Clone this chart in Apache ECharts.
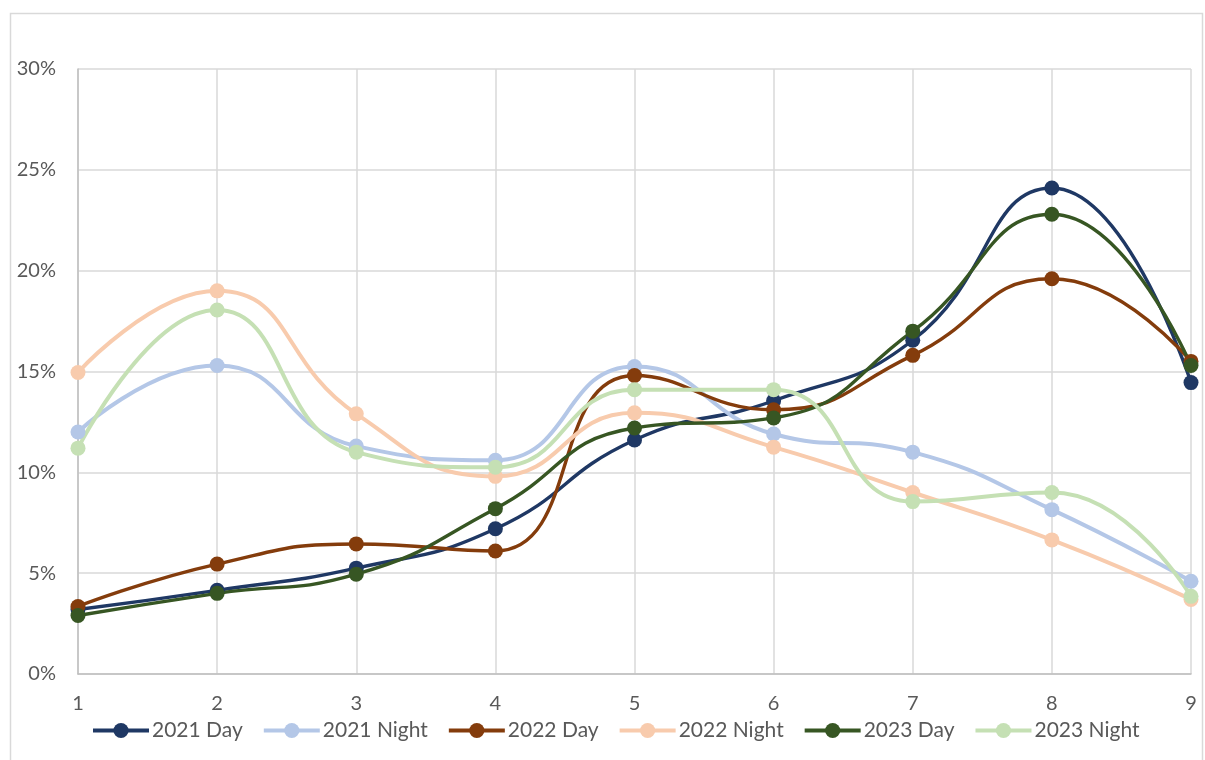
<!DOCTYPE html>
<html>
<head>
<meta charset="utf-8">
<script src="https://cdn.jsdelivr.net/npm/echarts@6/dist/echarts.min.js"></script>
<style>
  html, body { margin: 0; padding: 0; background: #ffffff; }
  #chart { width: 1205px; height: 760px; }
</style>
</head>
<body>
<div id="chart"></div>
<script>
// Categories along the x axis
const categories = ['1', '2', '3', '4', '5', '6', '7', '8', '9'];

// Share per category, in percent
const day2021   = [3.2, 4.15, 5.25, 7.2, 11.6, 13.55, 16.55, 24.1, 14.45];
const night2021 = [12.0, 15.3, 11.3, 10.6, 15.25, 11.9, 11.0, 8.15, 4.6];
const day2022   = [3.35, 5.45, 6.45, 6.1, 14.8, 13.1, 15.8, 19.6, 15.5];
const night2022 = [14.95, 19.0, 12.9, 9.8, 12.95, 11.25, 9.0, 6.65, 3.7];
const day2023   = [2.9, 4.0, 4.95, 8.2, 12.2, 12.7, 17.0, 22.8, 15.3];
const night2023 = [11.2, 18.05, 11.0, 10.25, 14.1, 14.1, 8.55, 9.0, 3.85];

const seriesNames = ['2021 Day', '2021 Night', '2022 Day', '2022 Night', '2023 Day', '2023 Night'];
const seriesData = [day2021, night2021, day2022, night2022, day2023, night2023];
const seriesColors = ['#1F3864', '#B4C7E7', '#843C0C', '#F8CBAD', '#375623', '#C5E0B4'];

const FONT = 'Lato, "Open Sans", sans-serif';
const TEXT = '#595959';

const chart = echarts.init(document.getElementById('chart'), null, { renderer: 'canvas' });

const series = seriesNames.map((name, i) => ({
  name: name,
  type: 'line',
  data: seriesData[i],
  smooth: 0.5,
  symbol: 'circle',
  symbolSize: 15,
  showSymbol: true,
  lineStyle: { color: seriesColors[i], width: i % 2 === 0 ? 3.4 : 4 },
  itemStyle: { color: seriesColors[i] },
  emphasis: { disabled: true },
  animation: false
}));

chart.setOption({
  backgroundColor: '#ffffff',
  animation: false,
  graphic: [{
    type: 'rect',
    shape: { x: 10.5, y: 13.5, width: 1192, height: 760 },
    style: { fill: 'none', stroke: '#d9d9d9', lineWidth: 1.5 },
    silent: true,
    z: -10
  }],
  grid: { left: 78, right: 14, top: 69, bottom: 86, containLabel: false },
  legend: {
    data: seriesNames,
    left: 86,
    top: 715,
    itemWidth: 56,
    itemHeight: 19,
    itemGap: 19,
    lineStyle: { width: 4 },
    textStyle: { fontFamily: FONT, fontSize: 21, color: TEXT, padding: [0, 0, 0, -2] }
  },
  xAxis: {
    type: 'category',
    data: categories,
    boundaryGap: false,
    axisLine: { lineStyle: { color: '#bfbfbf', width: 1.5 } },
    axisTick: { show: false },
    axisLabel: { fontFamily: FONT, fontSize: 20, color: TEXT, margin: 20 },
    splitLine: { show: true, lineStyle: { color: '#d9d9d9', width: 1.5 } }
  },
  yAxis: {
    type: 'value',
    min: 0,
    max: 30,
    interval: 5,
    axisLine: { show: true, lineStyle: { color: '#bfbfbf', width: 1.5 } },
    axisTick: { show: false },
    axisLabel: { formatter: '{value}%', fontFamily: FONT, fontSize: 20, color: TEXT, margin: 22 },
    splitLine: { show: true, lineStyle: { color: '#d9d9d9', width: 1.5 } }
  },
  series: series
});
</script>
</body>
</html>
